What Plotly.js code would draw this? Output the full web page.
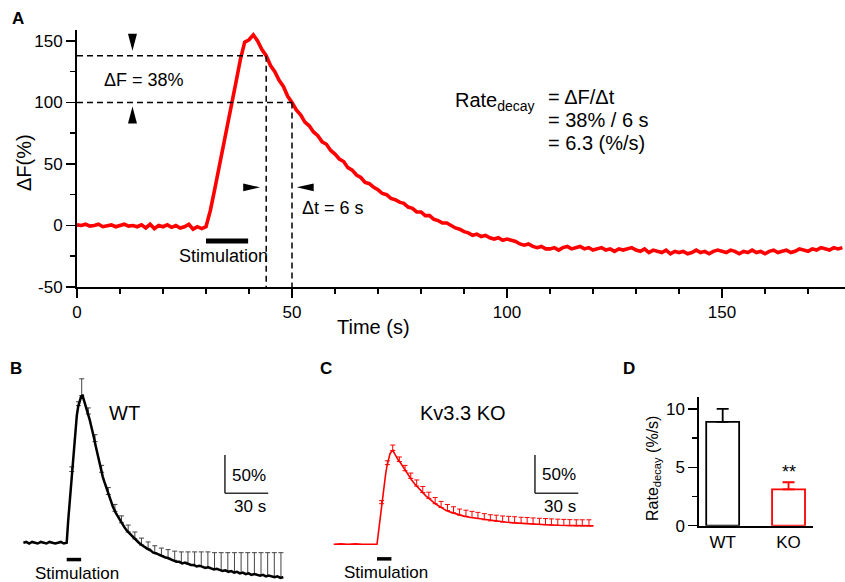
<!DOCTYPE html>
<html><head><meta charset="utf-8">
<script src="https://cdn.plot.ly/plotly-3.0.1.min.js"></script>
<style>html,body{margin:0;padding:0;background:#fff}#chart{width:845px;height:582px}</style>
</head><body><div id="chart"></div>
<script>
// ---------- Panel A: single trace, ΔF (%) vs time (s) ----------
const timeA = [0,1,2,3,4,5,6,7,8,9,10,11,12,13,14,15,16,17,18,19,20,21,22,23,24,25,26,27,28,29,
30,31,32,33,34,35,36,37,38,39,40,41,42,43,44,
45,46,47,48,49,50,51,52,53,54,55,56,57,58,59,60,61,62,63,64,65,66,67,68,69,70,71,72,73,74,75,76,77,78,79,80,81,82,83,84,85,86,87,88,89,90,
91,92,93,94,95,96,97,98,99,100,101,102,103,104,105,106,107,108,109,110,111,112,113,114,115,116,117,118,119,120,
121,122,123,124,125,126,127,128,129,130,131,132,133,134,135,136,137,138,139,140,141,142,143,144,145,146,147,148,149,150,
151,152,153,154,155,156,157,158,159,160,161,162,163,164,165,166,167,168,169,170,171,172,173,174,175,176,177,178];
const dFA = [0.5,0,1,-0.5,0,1,-1,0,0.5,-1,0,1,-0.5,0,-1,0.5,-2,1,-2.5,0,-1,0.5,-1.5,0,-2,-1,1,-3,-1,-2.5,
-1,12,29,46,63,82,99,117,135,149,151,155,150,143,138,
130,125,118,113,105,100,94,90,84,81,76,73,68,66,61,58,54,52,47,45,41,39,35,34,31,29,26,25,22,21,19,18,15,14,11,11,8,8,5,4,2,2,0,-2,-3,-5,
-6,-8,-7,-9,-8,-10,-11,-10,-12,-11,-12,-13,-15,-16,-15,-17,-18,-17,-19,-19,-18,-20,-18,-17,-19,-18,-17,-19,-18,-20,
-19,-18,-20,-19,-21,-19,-20,-19,-18,-20,-21,-19,-22,-20,-21,-22,-20,-23,-21,-22,-21,-23,-22,-20,-22,-21,-23,-21,-20,-21,
-22,-20,-21,-23,-21,-22,-20,-22,-21,-23,-21,-20,-22,-21,-20,-22,-21,-19,-20,-21,-19,-20,-18,-19,-20,-18,-19,-18];
const dfTop = 138, dfBottom = 100;     // ΔF = 38 %
const tTop = 44, tBottom = 50;         // Δt = 6 s
const stimA = [30, 39.8];
const xTicksA = [0, 50, 100, 150];
const yTicksA = [-50, 0, 50, 100, 150];
const yTickTextA = ['-50', '0', '50', '100', '150'];

// ---------- Panel B: WT mean trace ----------
const timeB = [0,2,4,6,8,10,12,14,16,18,20,22,24,26,28,30,
31,32,33,34,35,36,37,38,39,40,
41,42,43,44,45,46,47,48,49,50,51,52,53,54,55,56,57,58,59,60,
62,64,66,68,70,72,74,76,78,80,82,84,86,88,90,92,94,96,98,100,
102,104,106,108,110,112,114,116,118,120,122,124,126,128,130,132,134,136,138,140,
142,144,146,148,150,152,154,156,158,160,162,164,166,168,170,172,174,176,178,180];
const dFB = [0,1,-1,1,0,-1,1,0,-1,1,0,-1,0,1,-1,0,
28,52,80,106,130,150,166,178,186,191,
192,186,180,174,168,160,152,145,136,127,118,109,100,93,86,80,74,68,62,57,
47,39,32,26,20,15,11,7,3,0,-3,-6,-8,-10,-13,-14,-16,-17,-19,-20,
-22,-23,-25,-25,-27,-26,-28,-29,-29,-31,-30,-32,-33,-32,-34,-35,-34,-36,-37,-36,
-38,-37,-39,-38,-40,-39,-41,-40,-42,-41,-42,-43,-42,-44,-43,-44,-45,-44,-46,-45];
const errTimeB = [33.5,38.1,40.4,45,49.6,54.2,58.8,63.4,68,72.6,77.2,81.8,86.4,91,95.6,100.2,104.8,109.4,114,118.6,123.2,127.8,132.4,137,141.6,146.2,150.8,155.4,160,164.6,169.2,173.8,178.4];
const errMeanB = [93,179,192,168,132,92,63,41,26,14,5,-3,-8,-13,-17,-20,-23,-26,-28,-30,-31,-32,-35,-36,-37,-38,-39,-40,-41,-42,-43,-44,-45];
const errSemB  = [6,5,22,8,9,9,9,9,9,9,9,9,9,9,10,11,12,14,16,18,19,20,22,23,24,25,26,27,28,29,30,31,32];

// ---------- Panel C: Kv3.3 KO mean trace ----------
const timeC = [0,5,10,15,20,25,29,30,31,32,33,34,35,36,37,38,39,40,41,42,43,44,45,46,
48,50,52,54,56,58,60,62,64,66,68,70,72,75,78,81,84,87,90,
95,100,105,110,115,120,125,130,135,140,145,150,155,160,165,170,175,180];
const dFC = [0,0.5,0,0.5,0,0.5,0,0,15,33,52,66,79,92,103,112,118,121,122.5,119,115,112,109,107,
101,95,89,84,79,75,70.5,67,63,60,56.5,53.5,51,47,44,42,40,38,36.8,
35,33.7,32,30.5,29.5,28.7,28,27.3,26.8,26.2,25.7,25.2,24.8,24.5,24.2,24,24,24];
const errTimeC = [33.2,37.2,40.9,45.5,49.4,53.4,57.5,61.7,65.9,70.3,74.4,78.8,83,87.2,91.6,95.8,99.9,104.3,108.5,112.6,117,121.2,125.3,129.8,134,138.1,142.5,146.7,150.8,155.2,159.4,163.5,168,172.2,176.8];
const errMeanC = [53,104,122.5,108,96,86,76,67.5,60,53,48,44,41,38,36.5,35,33.7,32,30.6,30,29,28.5,28,27.3,27,26.4,26,25.6,25.2,24.8,24.5,24.2,24,24,24];
const errSemC  = [4,5,7,6,7,7,8,8,8,8,8,8,8,8,8,8,8,8,8,8,8,8,8,8,8,8,8,8,8,8,8,8,8,8,8];

const stimBC = [30, 40];
const scaleDF = 50, scaleT = 30;   // scale bars: 50 %, 30 s

// ---------- Panel D: decay rate ----------
const groups = ['WT', 'KO'];
const rateMean = [8.9, 3.12];
const rateSem = [1.1, 0.6];
const yTicksD = [0, 5, 10];

// ---------- layout helpers ----------
const W = 845, H = 582;
const fx = p => p / W;
const fy = p => 1 - p / H;
const FONT = 'Liberation Sans, Arial, Helvetica, sans-serif';
const RED = '#ff0000';

const xA = {domain: [fx(77), 1], range: [0, 178.6]};
const yA = {domain: [fy(287), fy(30)], range: [-50, 158.9]};
const kx = (xA.domain[1] - xA.domain[0]) * W / (xA.range[1] - xA.range[0]);  // px per s
const ky = (yA.domain[1] - yA.domain[0]) * H / (yA.range[1] - yA.range[0]);  // px per %

function tri(dir, x, y, len, half) {
  let p;
  if (dir === 'down') p = `M${x},${y} L${x - half / kx},${y + len / ky} L${x + half / kx},${y + len / ky} Z`;
  if (dir === 'up') p = `M${x},${y} L${x - half / kx},${y - len / ky} L${x + half / kx},${y - len / ky} Z`;
  if (dir === 'right') p = `M${x},${y} L${x - len / kx},${y + half / ky} L${x - len / kx},${y - half / ky} Z`;
  if (dir === 'left') p = `M${x},${y} L${x + len / kx},${y + half / ky} L${x + len / kx},${y - half / ky} Z`;
  return {type: 'path', xref: 'x', yref: 'y', path: p, fillcolor: 'black', line: {width: 0}};
}
const dash = {color: 'black', width: 1.5, dash: '6px,4px'};
const arrowY = 31, arrowX = 12.9;

const shapes = [
  {type: 'line', xref: 'x', yref: 'y', x0: 0, x1: tTop, y0: dfTop, y1: dfTop, line: dash},
  {type: 'line', xref: 'x', yref: 'y', x0: tTop, x1: tTop, y0: dfTop, y1: -50, line: dash},
  {type: 'line', xref: 'x', yref: 'y', x0: 0, x1: tBottom, y0: dfBottom, y1: dfBottom, line: dash},
  {type: 'line', xref: 'x', yref: 'y', x0: tBottom, x1: tBottom, y0: dfBottom, y1: -50, line: dash},
  tri('down', arrowX, dfTop + 5 / ky, 17, 4.5),
  tri('up', arrowX, dfBottom - 4 / ky, 17, 4.5),
  tri('right', tTop - 6 / kx, arrowY, 17, 3.8),
  tri('left', tBottom + 4.7 / kx, arrowY, 17, 3.8),
  {type: 'line', xref: 'x', yref: 'y', x0: stimA[0], x1: stimA[1], y0: -12.7, y1: -12.7, line: {color: 'black', width: 5}},
  {type: 'line', xref: 'x2', yref: 'y2', x0: stimBC[0], x1: stimBC[1], y0: -22, y1: -22, line: {color: 'black', width: 3.5}},
  {type: 'line', xref: 'x2', yref: 'y2', x0: 139.6, x1: 139.6, y0: 64.5, y1: 64.5 + scaleDF, line: {color: '#333', width: 1.6}},
  {type: 'line', xref: 'x2', yref: 'y2', x0: 139.6, x1: 139.6 + scaleT, y0: 64.5, y1: 64.5, line: {color: '#333', width: 1.6}},
  {type: 'line', xref: 'x3', yref: 'y3', x0: stimBC[0], x1: stimBC[1], y0: -19, y1: -19, line: {color: 'black', width: 3.5}},
  {type: 'line', xref: 'x3', yref: 'y3', x0: 139.4, x1: 139.4, y0: 66.6, y1: 66.6 + scaleDF, line: {color: '#333', width: 1.6}},
  {type: 'line', xref: 'x3', yref: 'y3', x0: 139.4, x1: 139.4 + scaleT, y0: 66.6, y1: 66.6, line: {color: '#333', width: 1.6}}
];

function ann(text, x, y, opts) {
  return Object.assign({text, x: fx(x), y: fy(y), xref: 'paper', yref: 'paper', showarrow: false,
    xanchor: 'center', yanchor: 'middle', font: {family: FONT, size: 17, color: 'black'}}, opts || {});
}
const bold = {family: 'Liberation Sans, Arial, sans-serif', size: 17, color: 'black', weight: 'bold'};
const f18 = {family: FONT, size: 18, color: 'black'};
const f20 = {family: FONT, size: 20, color: 'black'};
const annotations = [
  ann('<b>A</b>', 18, 19, {font: bold}),
  ann('<b>B</b>', 16, 368, {font: bold}),
  ann('<b>C</b>', 326, 368, {font: bold}),
  ann('<b>D</b>', 629, 368, {font: bold}),
  ann('ΔF = 38%', 102, 80, {xanchor: 'left', font: f18}),
  ann('Δt = 6 s', 300, 208, {xanchor: 'left', font: f18}),
  ann('Stimulation', 223, 256, {font: f18}),
  ann('Rate<sub>decay</sub>', 453, 101, {xanchor: 'left', font: f20}),
  ann('= ΔF/Δt', 546, 97, {xanchor: 'left', font: f20}),
  ann('= 38% / 6 s', 546, 120, {xanchor: 'left', font: f20}),
  ann('= 6.3 (%/s)', 546, 143, {xanchor: 'left', font: f20}),
  ann('Time (s)', 373, 327, {font: f20}),
  ann('ΔF(%)', 24, 163, {textangle: -90, font: f20}),
  ann('WT', 107, 413, {xanchor: 'left', font: f20}),
  ann('Kv3.3 KO', 462.5, 412.5, {font: f20}),
  ann('50%', 230, 475, {xanchor: 'left'}),
  ann('30 s', 232, 506.5, {xanchor: 'left'}),
  ann('50%', 540, 474, {xanchor: 'left'}),
  ann('30 s', 542, 506.5, {xanchor: 'left'}),
  ann('Stimulation', 76.7, 573.7),
  ann('Stimulation', 386.3, 572.5),
  ann('Rate<sub>decay</sub> (%/s)', 653, 469, {textangle: -90, font: {family: FONT, size: 16, color: 'black'}}),
  {text: '**', x: 'KO', y: rateMean[1] + rateSem[1], xref: 'x4', yref: 'y4', showarrow: false,
   xanchor: 'center', yanchor: 'bottom', yshift: -2, font: f18}
];

const axLine = {showline: true, linecolor: 'black', linewidth: 2, showgrid: false, zeroline: false,
  ticks: 'outside', tickcolor: 'black', tickwidth: 1.5, ticklen: 9,
  tickfont: {family: FONT, size: 17, color: 'black'}};
const hidden = {visible: false, showgrid: false, zeroline: false};

const layout = {
  width: W, height: H, margin: {l: 0, r: 0, t: 0, b: 0},
  paper_bgcolor: 'white', plot_bgcolor: 'rgba(0,0,0,0)', showlegend: false,
  font: {family: FONT, size: 17, color: 'black'}, barmode: 'overlay',
  xaxis: Object.assign({}, axLine, xA, {anchor: 'y', tickmode: 'array', tickvals: xTicksA,
    minor: {dtick: 10, tick0: 0, ticks: 'outside', ticklen: 5, tickwidth: 1.5, tickcolor: 'black'}}),
  yaxis: Object.assign({}, axLine, yA, {anchor: 'x', tickmode: 'array', tickvals: yTicksA, ticktext: yTickTextA,
    minor: {dtick: 25, tick0: 0, ticks: 'outside', ticklen: 5, tickwidth: 1.5, tickcolor: 'black'}}),
  xaxis2: Object.assign({}, hidden, {domain: [0, fx(300)], range: [-16.2, 191.6], anchor: 'y2'}),
  yaxis2: Object.assign({}, hidden, {domain: [0, fy(370)], range: [-51.3, 225.5], anchor: 'x2'}),
  xaxis3: Object.assign({}, hidden, {domain: [fx(310), fx(620)], range: [-16.4, 198.3], anchor: 'y3'}),
  yaxis3: Object.assign({}, hidden, {domain: [0, fy(370)], range: [-49.2, 227.5], anchor: 'x3'}),
  xaxis4: Object.assign({}, axLine, {domain: [fx(699.3), fx(812.7)], range: [-0.355, 1.367], type: 'category',
    anchor: 'y4', ticks: '', tickfont: {family: FONT, size: 17, color: 'black'}}),
  yaxis4: Object.assign({}, axLine, {domain: [fy(525.7), fy(396.7)], range: [0, 11.05], anchor: 'x4',
    tickmode: 'array', tickvals: yTicksD,
    minor: {dtick: 2.5, tick0: 0, ticks: 'outside', ticklen: 5, tickwidth: 1.5, tickcolor: 'black'}}),
  shapes, annotations
};

const data = [
  {type: 'scatter', mode: 'lines', x: timeA, y: dFA, xaxis: 'x', yaxis: 'y',
   line: {color: RED, width: 3.6}, hoverinfo: 'skip'},
  {type: 'scatter', mode: 'markers', x: errTimeB, y: errMeanB, xaxis: 'x2', yaxis: 'y2',
   marker: {size: 1, color: 'rgba(0,0,0,0)'}, hoverinfo: 'skip',
   error_y: {type: 'data', symmetric: false, array: errSemB, color: '#444', thickness: 1, width: 2.5}},
  {type: 'scatter', mode: 'lines', x: timeB, y: dFB, xaxis: 'x2', yaxis: 'y2',
   line: {color: 'black', width: 2.5}, hoverinfo: 'skip'},
  {type: 'scatter', mode: 'markers', x: errTimeC, y: errMeanC, xaxis: 'x3', yaxis: 'y3',
   marker: {size: 1, color: 'rgba(0,0,0,0)'}, hoverinfo: 'skip',
   error_y: {type: 'data', symmetric: false, array: errSemC, color: RED, thickness: 1, width: 2.5}},
  {type: 'scatter', mode: 'lines', x: timeC, y: dFC, xaxis: 'x3', yaxis: 'y3',
   line: {color: RED, width: 1.6}, hoverinfo: 'skip'},
  {type: 'bar', x: [groups[0]], y: [rateMean[0]], xaxis: 'x4', yaxis: 'y4', width: 0.5,
   marker: {color: 'white', line: {color: 'black', width: 1.8}}, hoverinfo: 'skip',
   error_y: {type: 'data', symmetric: false, array: [rateSem[0]], color: 'black', thickness: 1.8, width: 6}},
  {type: 'bar', x: [groups[1]], y: [rateMean[1]], xaxis: 'x4', yaxis: 'y4', width: 0.5,
   marker: {color: 'white', line: {color: RED, width: 1.8}}, hoverinfo: 'skip',
   error_y: {type: 'data', symmetric: false, array: [rateSem[1]], color: RED, thickness: 1.8, width: 6}}
];

Plotly.newPlot('chart', data, layout, {staticPlot: true, displayModeBar: false});
</script></body></html>
